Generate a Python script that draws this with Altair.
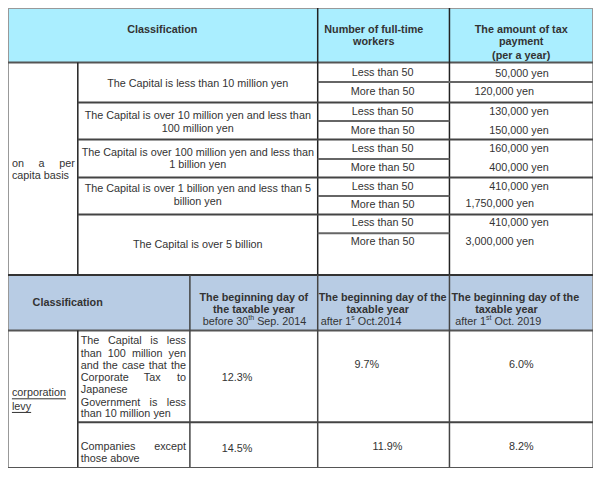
import altair as alt
import pandas as pd

# ---------------- data (table contents) ----------------
top_header = ["Classification", ["Number of full-time", "workers"],
              ["The amount of tax", "payment", "(per a year)"]]
capital_classes = [
    ["The Capital is less than 10 million yen"],
    ["The Capital is over 10 million yen and less than", "100 million yen"],
    ["The Capital is over 100 million yen and less than", "1 billion yen"],
    ["The Capital is over 1 billion yen and less than 5", "billion yen"],
    ["The Capital is over 5 billion"],
]
worker_groups = ["Less than 50", "More than 50"]
tax_amounts = ["50,000 yen", "120,000 yen", "130,000 yen", "150,000 yen",
               "160,000 yen", "400,000 yen", "410,000 yen", "1,750,000 yen",
               "410,000 yen", "3,000,000 yen"]
per_capita_label = ["on a per", "capita basis"]

levy_label = ["corporation", "levy"]
levy_classes = [
    ["The Capital is less", "than 100 million yen", "and the case that the",
     "Corporate Tax to", "Japanese", "Government is less", "than 10 million yen"],
    ["Companies except", "those above"],
]
levy_heads = [["The beginning day of", "the taxable year"],
              ["The beginning day of the", "taxable year"],
              ["The beginning day of the", "taxable year"]]
levy_periods = [("before 30", "th", " Sep. 2014"),
                ("after 1", "s", " Oct.2014"),
                ("after 1", "st", " Oct. 2019")]
levy_rates_small = ["12.3%", "9.7%", "6.0%"]
levy_rates_other = ["14.5%", "11.9%", "8.2%"]

# ---------------- layout (reference pixel grid) ----------------
W, H = 585, 460
RX = (3, 598)
RY = (2, 474)
kx = W / (RX[1] - RX[0])
FS = 10.8
FONT = "Liberation Sans"
TXT = "#333333"
CYAN = "#aaeeff"
BLUE = "#b8cce4"

# Arial / Liberation Sans advance widths (1/1000 em)
AW = {" ": 278, ",": 278, ".": 278, "%": 889, "(": 333, ")": 333, "-": 333}
AW.update({c: 556 for c in "0123456789"})
AW.update(dict(zip("abcdefghijklmnopqrstuvwxyz",
                   [556, 556, 500, 556, 556, 278, 556, 556, 222, 222, 500, 222, 833,
                    556, 556, 556, 556, 333, 500, 278, 556, 500, 722, 500, 500, 500])))
AW.update(dict(zip("ABCDEFGHIJKLMNOPQRSTUVWXYZ",
                   [667, 667, 722, 722, 667, 611, 778, 722, 278, 500, 667, 556, 833,
                    722, 778, 667, 778, 722, 667, 611, 722, 667, 944, 667, 667, 611])))


def tw(s, size=FS):
    return sum(AW.get(c, 556) for c in s) / 1000.0 * size / kx


texts = []


def T(s, x, y, align="center", bold=False, size=FS):
    texts.append(dict(t=s, x=x, y=y, align=align, bold=bold, size=size, c=TXT))


def justify(line, L, R, y, last=False):
    words = line.split()
    if len(words) == 1 or last:
        T(line, L, y, "left")
        return
    ws = [tw(w) for w in words]
    gap = (R - L - sum(ws)) / (len(words) - 1)
    x = L
    for w, wd in zip(words, ws):
        T(w, x, y, "left")
        x += wd + gap


def sup_line(parts, x, y):
    pre, sup, post = parts
    T(pre, x, y, "left")
    x += tw(pre)
    T(sup, x, y - 4, "left", size=7)
    x += tw(sup, 7)
    lead = len(post) - len(post.lstrip())
    T(post.strip(), x + tw(" " * lead), y, "left")


# top table header
T(top_header[0], 160, 25, bold=True)
for s, y in zip(top_header[1], [25, 37]):
    T(s, 375, y, bold=True)
for s, y in zip(top_header[2], [25, 37, 51]):
    T(s, 525, y, bold=True)

# per capita label (justified first line)
justify(per_capita_label[0], 7, 71, 162)
T(per_capita_label[1], 7, 174, "left")

# capital classes
class_y = [[80], [113, 126], [151, 163], [188, 201], [245]]
for lines_, ys_ in zip(capital_classes, class_y):
    for s, y in zip(lines_, ys_):
        T(s, 196, y)

# workers and amounts
worker_y = [69, 88, 109, 128, 147, 166, 186, 204, 223, 242]
amount_y = [70, 88, 109, 128, 147, 166, 186, 203, 223, 242]
amount_right = [553, 538, 553, 553, 553, 553, 553, 538, 553, 538]
for i, y in enumerate(worker_y):
    T(worker_groups[i % 2], 384, y)
for s, y, xr in zip(tax_amounts, amount_y, amount_right):
    T(s, xr, y, "right")

# bottom table header
T("Classification", 28, 305, "left", bold=True)
head_cols = [(253, 253, 201), (384, 379, 321), (519, 510, 458)]
for (c1, c2, xl), hd, per in zip(head_cols, levy_heads, levy_periods):
    T(hd[0], c1, 300, bold=True)
    T(hd[1], c2, 312, bold=True)
    sup_line(per, xl, 324.5)

# corporation levy label (underlined)
lines = []
for s, y in zip(levy_label, [397, 411]):
    T(s, 7, y, "left")
    lines.append(dict(x=7, x2=7 + tw(s), y=y + 6, y2=y + 6, c=TXT, w=1))

# levy sub classes (justified)
sub_y1 = [344, 357, 369, 382, 394, 407, 419]
for i, (s, y) in enumerate(zip(levy_classes[0], sub_y1)):
    justify(s, 77, 184, y, last=(i == len(sub_y1) - 1))
for i, (s, y) in enumerate(zip(levy_classes[1], [452, 465])):
    justify(s, 77, 184, y, last=(i == 1))

# rates
for s, x, y in zip(levy_rates_small, [236, 368, 525], [382, 368, 368]):
    T(s, x, y)
for s, x, y in zip(levy_rates_other, [236, 389, 525], [455, 452, 452]):
    T(s, x, y)

# ---------------- fills and grid lines ----------------
rects = pd.DataFrame([
    dict(x=3, x2=598, y=2, y2=58, f=CYAN),
    dict(x=3, x2=598, y=276, y2=333, f=BLUE),
])

OUT, HL, VL = "#999999", "#666666", "#222222"


def seg(x, x2, y, y2, c, w):
    lines.append(dict(x=x, x2=x2, y=y, y2=y2, c=c, w=w))


# top table
seg(3, 598, 2, 2, OUT, 2)
seg(3, 3, 2, 474, OUT, 2)
seg(598, 598, 2, 474, OUT, 2)
seg(3, 598, 58, 58, "#555555", 2)
seg(74, 74, 58, 276, VL, 1.5)
seg(318, 318, 2, 276, VL, 1.5)
seg(452, 452, 2, 276, VL, 1.5)
for y in [99, 137, 176, 214]:
    seg(74, 598, y, y, "#444444", 2)
seg(318, 598, 78, 78, HL, 2)
for y in [118, 157, 195, 233]:
    seg(318, 452, y, y, HL, 2)
seg(3, 598, 276, 276, "#333333", 2)
# bottom table
seg(3, 598, 333, 333, "#555555", 2)
seg(74, 74, 333, 474, VL, 1.5)
for x in [188, 318, 452]:
    seg(x, x, 276, 474, "#444444", 1.5)
seg(74, 598, 427, 427, "#444444", 2)
seg(3, 598, 474, 474, "#555555", 2)

ldf = pd.DataFrame(lines)
tdf = pd.DataFrame(texts)

xs = alt.Scale(domain=list(RX), nice=False, zero=False)
ys = alt.Scale(domain=list(RY), nice=False, zero=False, reverse=True)

rect_layer = alt.Chart(rects).mark_rect().encode(
    x=alt.X("x:Q", scale=xs, axis=None), x2="x2:Q",
    y=alt.Y("y:Q", scale=ys, axis=None), y2="y2:Q",
    fill=alt.Fill("f:N", scale=None),
)
line_layer = alt.Chart(ldf).mark_rule().encode(
    x=alt.X("x:Q", scale=xs, axis=None), x2="x2:Q",
    y=alt.Y("y:Q", scale=ys, axis=None), y2="y2:Q",
    color=alt.Color("c:N", scale=None),
    strokeWidth=alt.StrokeWidth("w:Q", scale=None),
)

layers = [rect_layer, line_layer]
for (align, bold, size), g in tdf.groupby(["align", "bold", "size"]):
    layers.append(
        alt.Chart(g).mark_text(align=align, baseline="middle", font=FONT,
                               fontSize=float(size),
                               fontWeight="bold" if bold else "normal").encode(
            x=alt.X("x:Q", scale=xs, axis=None),
            y=alt.Y("y:Q", scale=ys, axis=None),
            text="t:N",
            color=alt.Color("c:N", scale=None),
        )
    )

chart = alt.layer(*layers).properties(
    width=W, height=H, padding=0, autosize="none", background="white"
).configure_view(stroke=None)

chart.save("out.html", embed_options={"renderer": "svg", "actions": False})
